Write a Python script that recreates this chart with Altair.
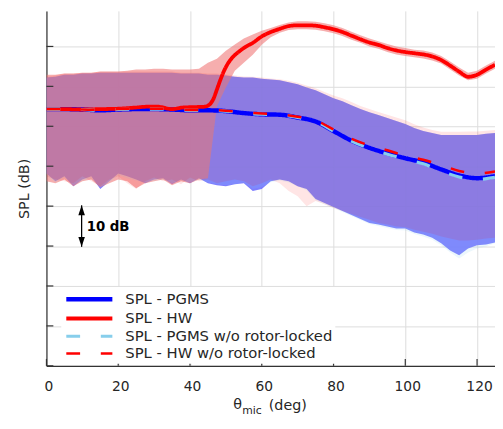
import altair as alt
import pandas as pd

# ---------------- data (SPL in dB, angle in deg) ----------------
BAND_X = [0, 2.5, 5, 7.5, 10, 12.5, 15, 17.5, 20, 22.5, 25, 27.5, 30, 32.5, 35, 37.5, 40, 42.5,
          45, 47.5, 50, 52.5, 55, 57.5, 60, 62.5, 65, 67.5, 70, 72.5, 75, 77.5, 80, 82.5, 85, 87.5,
          90, 92.5, 95, 97.5, 100, 102.5, 105, 107.5, 110, 112.5, 115, 117.5, 120, 122.5, 125]

PGMS_HI = [102.2, 102.4, 102.9, 102.9, 103.2, 103.2, 103.4, 103.4, 103.4, 103.4, 103.4, 103.4, 103.4,
           103.4, 103.4, 103.2, 103.2, 103.2, 102.9, 102.9, 102.7, 102.4, 102.2, 102.2, 101.9, 101.7,
           101.5, 101.0, 100.5, 99.7, 99.0, 98.0, 97.0, 96.3, 95.3, 94.3, 93.5, 92.8, 92.1, 91.3, 90.6,
           89.6, 88.8, 88.3, 87.8, 87.8, 87.8, 87.8, 87.8, 88.1, 88.3]
PGMS_LO = [78.2, 76.2, 77.5, 75.0, 76.7, 77.5, 74.3, 76.2, 78.2, 77.5, 76.7, 75.7, 76.7, 77.0, 75.5,
           76.7, 75.7, 77.0, 75.7, 75.2, 75.0, 75.5, 75.7, 73.8, 74.3, 76.2, 76.7, 76.2, 75.0, 74.3,
           71.8, 70.8, 69.8, 68.8, 67.8, 66.8, 65.8, 65.4, 64.9, 64.4, 64.4, 63.4, 62.9, 62.1, 60.7,
           58.9, 57.7, 59.4, 60.2, 60.4, 60.9]

HW_HI = [102.9, 102.9, 103.2, 103.2, 103.4, 103.4, 103.7, 103.7, 103.7, 103.9, 104.2, 104.2, 104.4,
         104.4, 104.2, 104.2, 104.2, 104.4, 105.9, 106.9, 108.9, 110.5, 112.0, 113.0, 113.9, 114.6,
         115.4, 116.0, 116.3, 116.3, 116.2, 115.8, 115.3, 114.6, 113.7, 112.8, 112.0, 111.3, 110.6,
         110.0, 109.6, 109.2, 109.0, 108.5, 107.6, 106.2, 104.7, 103.4, 103.9, 105.2, 106.4]
HW_LO = [76.2, 75.7, 76.7, 75.0, 76.2, 76.7, 74.7, 75.7, 76.7, 76.2, 74.5, 75.7, 76.2, 76.7, 75.2,
         76.2, 75.7, 76.7, 77.0, 95.0, 99.7, 103.9, 105.9, 107.9, 110.4, 112.3, 113.4, 114.1, 114.3,
         114.3, 114.2, 113.8, 113.3, 112.6, 111.7, 110.9, 110.0, 109.4, 108.6, 108.0, 107.6, 107.3,
         107.0, 106.5, 105.7, 104.2, 102.7, 101.5, 101.9, 103.2, 104.4]

PGMS_WO_HI = PGMS_HI
PGMS_WO_LO = [77.8, 76.0, 77.2, 75.3, 76.4, 77.0, 74.8, 76.0, 77.8, 77.0, 76.4, 75.9, 76.4, 76.7, 75.8,
              76.4, 75.9, 76.7, 75.9, 75.5, 75.2, 75.5, 75.9, 74.3, 74.8, 76.0, 76.4, 75.9, 75.0, 74.0,
              71.5, 70.5, 69.5, 68.5, 67.5, 66.5, 65.5, 65.0, 64.5, 64.0, 63.9, 63.0, 62.4, 61.6, 60.2,
              58.4, 56.9, 58.4, 59.4, 59.9, 60.7]

HW_WO_HI = [102.4, 102.7, 103.2, 103.2, 103.4, 103.4, 103.7, 103.7, 103.7, 103.7, 103.7, 103.7, 103.7,
            103.7, 103.7, 103.4, 103.4, 103.4, 103.2, 103.2, 103.0, 102.7, 102.5, 102.4, 102.2, 102.0,
            101.8, 101.4, 100.9, 100.2, 99.5, 98.6, 97.7, 97.0, 96.1, 95.1, 94.3, 93.6, 92.9, 92.2,
            91.5, 90.5, 89.7, 89.1, 88.6, 88.6, 88.6, 88.7, 88.7, 88.9, 89.1]
HW_WO_LO = [77.5, 76.7, 76.2, 75.7, 77.5, 76.2, 75.0, 76.7, 77.5, 75.7, 74.3, 76.2, 77.2, 76.2, 76.7,
            75.5, 77.2, 76.2, 76.7, 75.7, 76.2, 76.7, 76.2, 75.0, 75.7, 76.7, 75.7, 73.8, 72.5, 70.0,
            71.3, 70.5, 69.5, 68.8, 68.0, 67.3, 66.6, 65.8, 65.4, 64.9, 64.7, 64.1, 63.6, 63.1, 62.4,
            61.9, 61.4, 61.4, 61.6, 61.9, 62.1]

LINE_X = [0, 5, 10, 15, 20, 25, 30, 35, 40, 45, 50, 55, 60, 65, 70, 75, 80, 85, 90, 95, 100, 105,
          110, 115, 120, 125]
PGMS_Y = [94.3, 94.3, 94.2, 94.0, 94.2, 94.3, 94.3, 94.2, 94.0, 94.0, 93.8, 93.3, 93.0, 92.9, 92.2,
          91.2, 88.8, 86.4, 84.6, 83.2, 82.0, 80.9, 79.2, 77.7, 77.0, 77.5]
PGMS_WO_Y = [94.3, 94.3, 94.2, 94.0, 94.2, 94.3, 94.3, 94.2, 94.0, 94.0, 93.8, 93.3, 93.0, 92.9, 92.2,
             91.2, 88.8, 86.3, 84.5, 83.0, 81.8, 80.6, 78.8, 77.3, 76.7, 77.2]
HW_WO_Y = [94.3, 94.3, 94.2, 94.1, 94.3, 94.4, 94.4, 94.3, 94.1, 94.1, 93.9, 93.5, 93.2, 93.0, 92.4,
           91.5, 89.2, 86.9, 85.2, 84.0, 82.6, 81.6, 80.3, 78.8, 78.2, 78.7]

HW_X = [0, 5, 10, 15, 20, 25, 28, 31, 35, 38, 41, 44, 45.5, 46.5, 47.5, 48.5, 49.5, 50.7, 52, 53.5,
        55.5, 57.5, 60, 62.5, 65, 67.5, 70, 72.5, 75, 77.5, 80, 82.5, 85, 87.5, 90, 92.5, 95, 97.5,
        100, 102.5, 105, 107.5, 110, 112.5, 115, 117.5, 120, 122.5, 125]
HW_Y = [94.3, 94.3, 94.2, 94.3, 94.4, 94.7, 94.9, 94.9, 94.3, 94.7, 94.8, 94.9, 95.5, 96.8, 99.2,
        101.7, 103.9, 105.9, 107.4, 108.6, 109.9, 110.9, 112.5, 113.6, 114.4, 115.1, 115.3, 115.3,
        115.2, 114.8, 114.3, 113.6, 112.7, 111.8, 111.0, 110.4, 109.6, 109.0, 108.6, 108.3, 108.0,
        107.5, 106.6, 105.2, 103.7, 102.4, 102.9, 104.2, 105.4]

SERIES = ["SPL - PGMS", "SPL - HW", "SPL - PGMS w/o rotor-locked", "SPL - HW w/o rotor-locked"]
COLORS = ["#0000ff", "#ff0000", "#87ceeb", "#ff0000"]
WIDTHS = [4.5, 2.5, 3.5, 3.5]
DASHES = [[1, 0], [1, 0], [14, 21], [14, 21]]

X_TICKS = [0, 20, 40, 60, 80, 100, 120]
Y_TICKS = [30, 40, 50, 60, 70, 80, 90, 100, 110]

ARROW_X = [9.8]
ARROW_TOP = [70.2]
ARROW_BOTTOM = [59.8]
ANNOT_TEXT = ["10 dB"]
ANNOT_X = [11.2]
ANNOT_Y = [64.8]

FONT = "DejaVu Sans"

# ---------------- scales / encodings ----------------
xs = alt.Scale(domain=[0, 125], nice=False, zero=False)
ys = alt.Scale(domain=[30, 118.9], nice=False, zero=False)
x_axis = alt.Axis(values=X_TICKS, title=None, ticks=False, labelPadding=14, labelFontSize=14,
                  labelFont=FONT, labelColor="#262626", grid=True, labelFlush=False, labelOffset=2)
y_axis = alt.Axis(values=Y_TICKS, labels=False, ticks=False, title="SPL (dB)", titleFontSize=14.5,
                  titleFont=FONT, titleFontWeight="normal", titleColor="#262626", titlePadding=15,
                  grid=True)


def X(field):
    return alt.X(field, type="quantitative", scale=xs, axis=x_axis)


def Y(field):
    return alt.Y(field, type="quantitative", scale=ys, axis=y_axis)


def band(xv, lo, hi, color, opacity):
    df = pd.DataFrame({"x": xv, "lo": lo, "hi": hi})
    return alt.Chart(df).mark_area(color=color, opacity=opacity, clip=True).encode(
        x=X("x"), y=Y("lo"), y2="hi")


bands = [
    band(BAND_X, PGMS_LO, PGMS_HI, "#7070ff", 0.9),
    band(BAND_X, HW_LO, HW_HI, "#f07878", 0.6),
    band(BAND_X, PGMS_WO_LO, PGMS_WO_HI, "#87ceeb", 0.16),
    band(BAND_X, HW_WO_LO, HW_WO_HI, "#ff0000", 0.1),
]

lines_df = pd.concat([
    pd.DataFrame({"x": LINE_X, "y": PGMS_Y, "series": SERIES[0]}),
    pd.DataFrame({"x": HW_X, "y": HW_Y, "series": SERIES[1]}),
    pd.DataFrame({"x": LINE_X, "y": PGMS_WO_Y, "series": SERIES[2]}),
    pd.DataFrame({"x": LINE_X, "y": HW_WO_Y, "series": SERIES[3]}),
], ignore_index=True)

legend = alt.Legend(title=None, orient="none", legendX=15, legendY=280, direction="vertical",
                    symbolType="M-2.92,0H2.92", symbolSize=256, symbolOffset=16,
                    labelFontSize=15, labelFont=FONT, labelLimit=400,
                    labelColor="#262626", fillColor="white", padding=2, rowPadding=0,
                    labelOffset=26)

line_base = alt.Chart(lines_df).mark_line(interpolate="monotone", clip=True).encode(
    x=X("x"), y=Y("y"),
    color=alt.Color("series:N", scale=alt.Scale(domain=SERIES, range=COLORS), legend=legend),
    strokeDash=alt.StrokeDash("series:N", scale=alt.Scale(domain=SERIES, range=DASHES), legend=legend),
    strokeWidth=alt.StrokeWidth("series:N", scale=alt.Scale(domain=SERIES, range=WIDTHS), legend=legend),
)
lines = [line_base.transform_filter(alt.datum.series == s) for s in SERIES]

# inward tick marks
xticks = alt.Chart(pd.DataFrame({"x": X_TICKS})).mark_rule(color="#333333", strokeWidth=1.2).encode(
    x=X("x"), y=alt.value(360), y2=alt.value(353))
yticks = alt.Chart(pd.DataFrame({"y": Y_TICKS})).mark_rule(color="#333333", strokeWidth=1.2).encode(
    y=Y("y"), x=alt.value(0), x2=alt.value(7))

# 10 dB annotation
arrow_df = pd.DataFrame({"x": ARROW_X, "top": ARROW_TOP, "bottom": ARROW_BOTTOM})
arrow_line = alt.Chart(arrow_df).mark_rule(color="black", strokeWidth=1.3).encode(
    x=X("x"), y=Y("top"), y2="bottom")
head_up = alt.Chart(arrow_df).mark_point(shape="M0,0L-1,3L1,3Z", filled=True, color="black",
                                         size=44, opacity=1).encode(x=X("x"), y=Y("top"))
head_down = alt.Chart(arrow_df).mark_point(shape="M0,0L-1,-3L1,-3Z", filled=True, color="black",
                                           size=44, opacity=1).encode(x=X("x"), y=Y("bottom"))
annot = alt.Chart(pd.DataFrame({"x": ANNOT_X, "y": ANNOT_Y, "t": ANNOT_TEXT})).mark_text(
    align="left", baseline="middle", font=FONT, fontSize=13.5, fontWeight="bold", color="black"
).encode(x=X("x"), y=Y("y"), text="t:N")

# x-axis title with subscript
t1 = alt.Chart(pd.DataFrame({"t": ["θ"]})).mark_text(
    align="left", baseline="alphabetic", font=FONT, fontSize=14.5, color="#262626"
).encode(x=alt.value(189.5), y=alt.value(404), text="t:N")
t2 = alt.Chart(pd.DataFrame({"t": ["mic"]})).mark_text(
    align="left", baseline="alphabetic", font=FONT, fontSize=11, color="#262626"
).encode(x=alt.value(198.5), y=alt.value(409), text="t:N")
t3 = alt.Chart(pd.DataFrame({"t": ["(deg)"]})).mark_text(
    align="left", baseline="alphabetic", font=FONT, fontSize=14.5, color="#262626"
).encode(x=alt.value(225.5), y=alt.value(405), text="t:N")

chart = alt.layer(
    *bands, *lines, xticks, yticks, arrow_line, head_up, head_down, annot, t1, t2, t3
).properties(
    width=455, height=360,
    autosize=alt.AutoSizeParams(type="none"),
    padding={"left": 39, "top": 0, "right": 0, "bottom": 51},
).configure_view(stroke=None).configure_axis(
    gridColor="#dcdcdc", gridWidth=1, domainColor="#333333", domainWidth=1.2
)

chart.save("out.html", embed_options={"renderer": "svg", "actions": False})
